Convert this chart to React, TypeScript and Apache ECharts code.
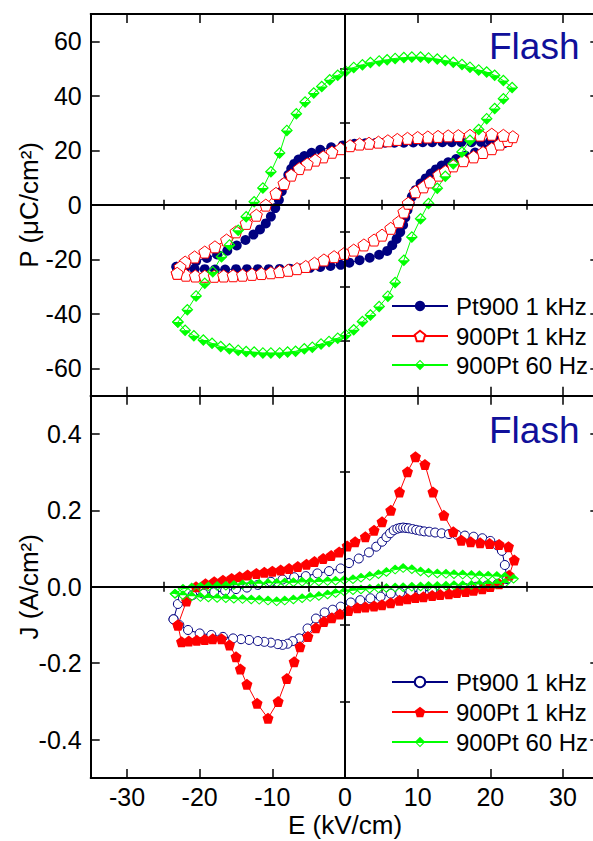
import React, { useEffect, useRef } from 'react';
import * as echarts from 'echarts';

// ---------- axis ticks ----------
const X_MAJOR = [-30, -20, -10, 0, 10, 20, 30];
const X_MINOR = [-25, -15, -5, 5, 15, 25];
const P_MAJOR = [-60, -40, -20, 0, 20, 40, 60];
const P_MINOR = [-50, -30, -10, 10, 30, 50];
const J_MAJOR = [-0.4, -0.2, 0, 0.2, 0.4];
const J_MINOR = [-0.3, -0.1, 0.1, 0.3];

const SERIES_NAMES = ['Pt900 1 kHz', '900Pt 1 kHz', '900Pt 60 Hz'];
const PANEL_LABEL = 'Flash';
const X_TITLE = 'E (kV/cm)';
const P_TITLE = 'P (μC/cm²)';
const J_TITLE = 'J (A/cm²)';

// ---------- top panel: P (uC/cm2) vs E (kV/cm) ----------
const P_PT900_1K: [number, number][] = [
  [-23.2, -22.7], [-22.0, -23.2], [-20.7, -23.5], [-19.3, -23.6], [-17.9, -23.7], [-16.5, -23.7],
  [-15.0, -23.6], [-13.5, -23.6], [-12.0, -23.6], [-10.5, -23.6], [-9.0, -23.5], [-7.6, -23.4],
  [-6.2, -23.3], [-4.8, -23.1], [-3.4, -22.8], [-2.0, -22.4], [-0.6, -22.0], [0.6, -21.2],
  [2.0, -20.3], [3.4, -19.4], [4.7, -18.3], [5.8, -16.9], [6.5, -14.8], [7.1, -12.5],
  [7.6, -10.0], [8.0, -7.4], [8.3, -4.6], [8.6, -1.9], [8.9, 0.6], [9.2, 3.0],
  [9.7, 5.4], [10.4, 7.8], [11.1, 9.7], [11.8, 11.5], [12.5, 13.0], [13.3, 14.4],
  [14.2, 15.6], [15.3, 16.8], [16.6, 18.0], [17.9, 19.2], [19.3, 20.4], [20.7, 21.6],
  [21.9, 22.6], [22.4, 23.4],
  [21.2, 23.6], [20.0, 23.3], [18.7, 23.1], [17.4, 23.0], [16.0, 23.0], [14.7, 23.0],
  [13.4, 23.0], [12.0, 23.0], [10.7, 23.0], [9.4, 22.9], [8.1, 22.8], [6.8, 22.8],
  [5.5, 22.8], [4.2, 22.7], [2.8, 22.6], [1.3, 22.4], [-0.3, 21.8], [-1.9, 21.1],
  [-3.4, 20.2], [-4.6, 19.1], [-5.6, 17.9], [-6.4, 16.6], [-7.0, 15.0], [-7.4, 13.2],
  [-7.8, 11.0], [-8.3, 8.2], [-8.7, 5.0], [-9.1, 1.8], [-9.6, -1.2], [-10.2, -4.3],
  [-10.9, -6.8], [-11.7, -9.0], [-12.6, -10.9], [-13.7, -12.9], [-14.9, -14.9], [-16.2, -16.8],
  [-17.6, -18.2], [-19.0, -19.5], [-20.5, -20.7], [-21.9, -21.6], [-23.2, -22.7],
];

const P_900PT_1K: [number, number][] = [
  [-23.1, -25.1], [-21.9, -25.8], [-20.6, -26.1], [-19.3, -26.2], [-18.0, -26.2], [-16.7, -26.1],
  [-15.4, -26.0], [-14.1, -25.8], [-12.8, -25.5], [-11.5, -25.2], [-10.2, -24.9], [-9.0, -24.5],
  [-7.8, -24.0], [-6.6, -23.4], [-5.4, -22.6], [-4.2, -21.4], [-2.9, -20.2], [-1.5, -19.0],
  [-0.1, -17.8], [1.2, -16.6], [2.6, -14.7], [4.0, -12.9], [5.1, -11.1], [6.3, -8.6],
  [7.4, -6.2], [8.1, -2.6], [8.7, 0.6], [9.7, 4.8], [10.8, 6.6], [11.7, 8.4],
  [12.9, 10.9], [13.8, 12.2], [14.9, 14.3], [16.3, 16.2], [17.7, 17.6], [19.0, 19.2],
  [20.2, 20.6], [21.3, 22.3], [22.4, 23.6], [23.1, 25.0],
  [21.8, 25.5], [20.2, 25.9], [18.6, 25.6], [17.2, 25.5], [15.6, 25.4], [14.2, 25.3],
  [12.8, 25.1], [11.4, 24.9], [10.0, 24.7], [8.6, 24.4], [7.2, 24.0], [5.9, 23.5],
  [4.6, 23.0], [3.3, 22.6], [2.0, 22.3], [0.7, 21.7], [-0.6, 20.6], [-1.8, 19.3],
  [-3.0, 17.6], [-4.1, 16.4], [-5.2, 15.0], [-6.3, 13.3], [-7.4, 10.9], [-8.4, 7.8],
  [-9.5, 4.2], [-10.9, -0.1], [-12.2, -3.8], [-13.6, -6.8], [-15.0, -9.9], [-16.3, -12.9],
  [-17.9, -15.4], [-19.3, -17.3], [-20.7, -19.1], [-22.0, -21.0], [-22.7, -22.8], [-23.1, -25.1],
];

const P_900PT_60: [number, number][] = [
  [-23.0, -43.0], [-22.0, -46.0], [-20.8, -48.0], [-19.5, -49.6], [-18.3, -50.8], [-17.1, -52.0],
  [-15.9, -52.8], [-14.7, -53.3], [-13.6, -53.8], [-12.5, -54.0], [-11.3, -54.3], [-10.2, -54.3],
  [-9.0, -54.3], [-7.9, -54.0], [-6.8, -53.7], [-5.6, -52.8], [-4.5, -52.2], [-3.3, -51.0],
  [-2.2, -50.1], [-1.0, -48.9], [0.1, -47.7], [1.2, -45.8], [2.4, -42.8], [3.5, -40.4],
  [4.7, -37.3], [5.9, -33.5], [6.9, -28.5], [8.1, -20.3], [9.2, -11.8], [10.4, -5.1],
  [11.5, 0.5], [12.7, 6.1], [13.8, 10.5], [14.9, 15.1], [16.1, 19.4], [17.2, 23.7],
  [18.4, 27.6], [19.5, 31.6], [20.6, 35.3], [21.8, 38.9], [23.0, 43.0],
  [21.8, 45.6], [20.6, 47.5], [19.5, 48.7], [18.4, 49.5], [17.2, 50.5], [16.1, 51.5],
  [14.9, 52.3], [13.8, 52.9], [12.7, 53.5], [11.5, 53.9], [10.4, 54.2], [9.2, 54.2],
  [8.1, 54.0], [6.9, 53.7], [5.8, 53.2], [4.7, 52.8], [3.5, 52.2], [2.4, 51.4],
  [1.2, 50.4], [0.1, 49.0], [-1.0, 47.5], [-2.1, 45.9], [-3.2, 43.4], [-4.3, 41.0],
  [-5.5, 37.7], [-6.7, 33.4], [-8.0, 27.3], [-9.0, 19.0], [-10.2, 12.1], [-11.3, 6.2],
  [-12.5, 1.1], [-13.6, -4.4], [-14.7, -9.3], [-15.9, -14.7], [-17.0, -19.0], [-18.2, -24.5],
  [-19.3, -28.8], [-20.5, -33.4], [-21.7, -38.5], [-23.0, -43.0],
];

// ---------- bottom panel: J (A/cm2) vs E (kV/cm) ----------
const J_PT900_1K: [number, number][] = [
  [-23.6, -0.085], [-23.0, -0.045], [-22.3, -0.030], [-21.0, -0.022], [-19.5, -0.018], [-18.0, -0.014],
  [-16.5, -0.010], [-15.0, -0.006], [-13.5, -0.002], [-12.0, 0.005], [-10.2, 0.013], [-8.6, 0.019],
  [-7.0, 0.025], [-5.4, 0.028], [-3.8, 0.035], [-2.2, 0.041], [-0.6, 0.048], [0.55, 0.062],
  [1.9, 0.074], [3.3, 0.090], [4.3, 0.105], [5.1, 0.118], [5.7, 0.130], [6.2, 0.140],
  [6.7, 0.148], [7.2, 0.152], [7.6, 0.154], [8.0, 0.155], [8.4, 0.154], [8.8, 0.153],
  [9.3, 0.151], [9.8, 0.149], [10.3, 0.147], [10.9, 0.145], [11.6, 0.144], [12.4, 0.142],
  [13.3, 0.140], [14.3, 0.138], [15.4, 0.136], [16.5, 0.134], [17.7, 0.131], [18.9, 0.127],
  [20.0, 0.120], [21.0, 0.108], [21.6, 0.094], [22.0, 0.057], [22.3, 0.020],
  [21.0, 0.008], [19.5, 0.003], [18.0, 0.000], [16.5, -0.003], [15.0, -0.005], [13.5, -0.007],
  [12.0, -0.009], [10.5, -0.011], [9.0, -0.013], [7.6, -0.015], [6.3, -0.018], [4.9, -0.026],
  [3.5, -0.030], [2.1, -0.035], [0.8, -0.041], [-0.6, -0.052], [-1.7, -0.060], [-2.8, -0.067],
  [-4.0, -0.083], [-5.15, -0.109], [-6.3, -0.135], [-7.2, -0.142], [-7.9, -0.149], [-8.6, -0.152],
  [-9.25, -0.150], [-10.2, -0.146], [-11.1, -0.144], [-12.0, -0.142], [-13.2, -0.139], [-14.3, -0.137],
  [-15.4, -0.135], [-16.8, -0.131], [-18.4, -0.126], [-20.0, -0.122], [-21.6, -0.113], [-22.8, -0.100],
  [-23.6, -0.085],
];

const J_900PT_1K: [number, number][] = [
  [-23.0, -0.100], [-21.8, -0.037], [-20.5, 0.000], [-19.2, 0.008], [-18.0, 0.013], [-16.8, 0.017],
  [-15.6, 0.022], [-14.5, 0.026], [-13.4, 0.031], [-12.2, 0.035], [-11.1, 0.038], [-10.0, 0.041],
  [-8.85, 0.044], [-7.7, 0.048], [-6.5, 0.053], [-5.3, 0.059], [-4.2, 0.066], [-3.0, 0.074],
  [-1.9, 0.082], [-0.8, 0.091], [0.3, 0.107], [1.4, 0.118], [2.8, 0.131], [4.0, 0.148],
  [5.1, 0.170], [6.3, 0.200], [7.5, 0.248], [8.6, 0.301], [9.7, 0.340], [11.0, 0.320],
  [12.1, 0.248], [13.6, 0.187], [14.9, 0.144], [16.0, 0.122], [17.3, 0.118], [18.6, 0.115],
  [19.9, 0.113], [21.2, 0.111], [22.5, 0.105], [23.3, 0.070], [22.6, 0.030], [21.2, 0.008],
  [20.0, 0.001], [18.9, -0.005], [17.7, -0.009], [16.6, -0.012], [15.4, -0.015], [14.3, -0.018],
  [13.1, -0.020], [12.0, -0.023], [10.8, -0.026], [9.7, -0.028], [8.6, -0.031], [7.5, -0.035],
  [6.3, -0.042], [5.1, -0.047], [4.0, -0.050], [2.8, -0.053], [1.7, -0.055], [0.5, -0.062],
  [-0.7, -0.071], [-1.8, -0.081], [-2.9, -0.091], [-4.0, -0.107], [-5.1, -0.130], [-6.2, -0.157],
  [-7.0, -0.196], [-8.0, -0.240], [-9.2, -0.300], [-10.6, -0.344], [-12.1, -0.305], [-13.5, -0.255],
  [-14.4, -0.215], [-15.0, -0.183], [-15.9, -0.152], [-17.0, -0.136], [-18.2, -0.136], [-19.3, -0.138],
  [-20.4, -0.140], [-21.5, -0.142], [-22.5, -0.144], [-23.0, -0.100],
];

const J_900PT_60: [number, number][] = [
  [-23.4, -0.018], [-22.3, -0.005], [-21.1, -0.002], [-19.9, 0.000], [-18.8, 0.001], [-17.6, 0.002],
  [-16.4, 0.003], [-15.3, 0.005], [-14.1, 0.006], [-12.9, 0.007], [-11.8, 0.008], [-10.6, 0.009],
  [-9.4, 0.010], [-8.3, 0.011], [-7.1, 0.012], [-5.9, 0.013], [-4.8, 0.013], [-3.6, 0.014],
  [-2.4, 0.015], [-1.3, 0.016], [-0.1, 0.018], [1.1, 0.020], [2.2, 0.024], [3.4, 0.028],
  [4.6, 0.033], [5.7, 0.039], [6.9, 0.045], [8.0, 0.049], [9.2, 0.046], [10.4, 0.040],
  [11.5, 0.037], [12.7, 0.035], [13.9, 0.034], [15.0, 0.033], [16.2, 0.032], [17.4, 0.031],
  [18.5, 0.030], [19.7, 0.029], [20.9, 0.028], [22.0, 0.026], [23.2, 0.021],
  [22.0, 0.010], [20.9, 0.008], [19.7, 0.007], [18.5, 0.006], [17.4, 0.005], [16.2, 0.004],
  [15.0, 0.004], [13.9, 0.003], [12.7, 0.002], [11.5, 0.002], [10.4, 0.001], [9.2, 0.000],
  [8.0, -0.001], [6.9, -0.002], [5.7, -0.003], [4.6, -0.004], [3.4, -0.005], [2.2, -0.007],
  [1.1, -0.009], [-0.1, -0.012], [-1.3, -0.016], [-2.4, -0.020], [-3.6, -0.024], [-4.8, -0.027],
  [-5.9, -0.030], [-7.1, -0.033], [-8.3, -0.036], [-9.4, -0.038], [-10.6, -0.036], [-11.8, -0.034],
  [-12.9, -0.033], [-14.1, -0.032], [-15.3, -0.031], [-16.4, -0.030], [-17.6, -0.029], [-18.8, -0.028],
  [-19.9, -0.027], [-21.1, -0.025], [-22.3, -0.022], [-23.4, -0.018],
];

// ---------- styling ----------
const FONT = '"Liberation Sans", Arial, Helvetica, sans-serif';
const NAVY = '#000080';
const RED = '#ff0000';
const GREEN = '#00ff00';
const FLASH_BLUE = '#10109a';
const PENTAGON = 'path://M0,-10L9.511,-3.09L5.878,8.09L-5.878,8.09L-9.511,-3.09Z';
const HALF_DIAMOND_LOW = 'path://M0,-10L10,0L0,10L-10,0ZM0,-7.2L-7.2,0L7.2,0Z';
const HALF_DIAMOND_HIGH = 'path://M0,-10L10,0L0,10L-10,0ZM0,7.2L7.2,0L-7.2,0Z';

const GRID_LEFT = 90.7;
const GRID_WIDTH = 508.6;
const TICK_FONT = 25;
const TOP_LEGEND_ROWS = [307, 337, 366];
const BOTTOM_LEGEND_ROWS = [683, 713, 743];

function xAxesFor(grid: number, bottomPanel: boolean) {
  const base = {
    type: 'value', gridIndex: grid, min: -35, max: 35,
    splitLine: { show: false },
    axisLine: { show: true, onZero: false, lineStyle: { color: '#000', width: 2 } },
  };
  const major = { show: true, inside: true, length: 9, customValues: X_MAJOR, lineStyle: { color: '#000', width: 1.5 } };
  const minor = { show: true, inside: true, length: 5, customValues: X_MINOR, lineStyle: { color: '#000', width: 1.5 } };
  return [
    {
      ...base, position: 'bottom', axisTick: major,
      axisLabel: { show: bottomPanel, customValues: X_MAJOR, margin: 7, fontSize: TICK_FONT, color: '#000', fontFamily: FONT },
      name: bottomPanel ? X_TITLE : '', nameLocation: 'middle', nameGap: 34, nameMoveOverlap: false,
      nameTextStyle: { fontSize: 26, color: '#000', fontFamily: FONT },
    },
    { ...base, position: 'bottom', axisLine: { show: false }, axisTick: minor, axisLabel: { show: false } },
    { ...base, position: 'top', axisTick: major, axisLabel: { show: false } },
    { ...base, position: 'top', axisLine: { show: false }, axisTick: minor, axisLabel: { show: false } },
  ];
}

function yAxesFor(grid: number, min: number, max: number, majors: number[], minors: number[], title: string, fmt: (v: number) => string) {
  const base = {
    type: 'value', gridIndex: grid, min, max,
    splitLine: { show: false },
    axisLine: { show: true, onZero: false, lineStyle: { color: '#000', width: 2 } },
  };
  const major = { show: true, inside: true, length: 9, customValues: majors, lineStyle: { color: '#000', width: 1.5 } };
  const minor = { show: true, inside: true, length: 5, customValues: minors, lineStyle: { color: '#000', width: 1.5 } };
  return [
    {
      ...base, position: 'left', axisTick: major,
      axisLabel: { show: true, customValues: majors, margin: 9, fontSize: TICK_FONT, color: '#000', fontFamily: FONT, formatter: fmt },
      name: title, nameLocation: 'middle', nameGap: 49, nameMoveOverlap: false,
      nameTextStyle: { fontSize: 26, color: '#000', fontFamily: FONT },
    },
    { ...base, position: 'left', axisLine: { show: false }, axisTick: minor, axisLabel: { show: false } },
    { ...base, position: 'right', axisTick: major, axisLabel: { show: false } },
    { ...base, position: 'right', axisLine: { show: false }, axisTick: minor, axisLabel: { show: false } },
  ];
}

function zeroLines(axisIndex: number) {
  return {
    type: 'line', name: 'zero' + axisIndex, xAxisIndex: axisIndex, yAxisIndex: axisIndex,
    data: [], z: 1, silent: true, showSymbol: false,
    markLine: {
      silent: true, symbol: ['none', 'none'], label: { show: false },
      lineStyle: { color: '#000', width: 2, type: 'solid' },
      emphasis: { disabled: true },
      data: [{ yAxis: 0 }, { xAxis: 0 }],
    },
  };
}

function dataSeries(name: string, axisIndex: number, data: [number, number][], color: string, symbol: string, size: number | number[], fill: string, border: number) {
  return {
    type: 'line', name, xAxisIndex: axisIndex, yAxisIndex: axisIndex, data,
    z: 2, symbol, symbolSize: size, showAllSymbol: true,
    lineStyle: { color, width: 1 },
    itemStyle: { color: fill, borderColor: color, borderWidth: border },
    emphasis: { disabled: true },
  };
}

const J_PREFIX = 'J: ';

function legendRow(name: string, center: number) {
  return {
    orient: 'vertical', left: 391, top: center - 13, itemWidth: 56, itemHeight: 13, padding: 0,
    textStyle: { fontSize: 24, color: '#000', fontFamily: FONT, padding: [0, 0, 0, 3] },
    selectedMode: false,
    data: [name],
    formatter: (n: string) => n.replace(J_PREFIX, ''),
  };
}

export default function App() {
  const ref = useRef<HTMLDivElement>(null);
  useEffect(() => {
    if (!ref.current) return;
    const chart = echarts.init(ref.current, undefined, { renderer: 'svg' });
    const pFmt = (v: number) => String(Math.round(v));
    const jFmt = (v: number) => (Math.abs(v) < 1e-9 ? '0.0' : v.toFixed(1));
    chart.setOption({
      animation: false,
      backgroundColor: '#fff',
      grid: [
        { left: GRID_LEFT, width: GRID_WIDTH, top: 14, height: 381.7, containLabel: false, outerBoundsMode: 'none' },
        { left: GRID_LEFT, width: GRID_WIDTH, top: 395.7, height: 382.2, containLabel: false, outerBoundsMode: 'none' },
      ],
      xAxis: [...xAxesFor(0, false), ...xAxesFor(1, true)],
      yAxis: [
        ...yAxesFor(0, -70, 70, P_MAJOR, P_MINOR, P_TITLE, pFmt),
        ...yAxesFor(1, -0.5, 0.5, J_MAJOR, J_MINOR, J_TITLE, jFmt),
      ],
      legend: [
        ...SERIES_NAMES.map((n, i) => legendRow(n, TOP_LEGEND_ROWS[i])),
        ...SERIES_NAMES.map((n, i) => legendRow(J_PREFIX + n, BOTTOM_LEGEND_ROWS[i])),
      ],
      graphic: [
        { type: 'text', left: 489, top: 28, style: { text: PANEL_LABEL, fontSize: 37, fill: FLASH_BLUE, fontFamily: FONT } },
        { type: 'text', left: 489, top: 412, style: { text: PANEL_LABEL, fontSize: 37, fill: FLASH_BLUE, fontFamily: FONT } },
      ],
      series: [
        zeroLines(0),
        dataSeries(SERIES_NAMES[0], 0, P_PT900_1K, NAVY, 'circle', 10, NAVY, 0),
        dataSeries(SERIES_NAMES[1], 0, P_900PT_1K, RED, PENTAGON, 12, '#ffffff', 1),
        dataSeries(SERIES_NAMES[2], 0, P_900PT_60, GREEN, HALF_DIAMOND_LOW, 12, GREEN, 0),
        zeroLines(4),
        dataSeries(J_PREFIX + SERIES_NAMES[0], 4, J_PT900_1K, NAVY, 'circle', 9, '#ffffff', 1),
        dataSeries(J_PREFIX + SERIES_NAMES[1], 4, J_900PT_1K, RED, PENTAGON, 11, RED, 0),
        dataSeries(J_PREFIX + SERIES_NAMES[2], 4, J_900PT_60, GREEN, HALF_DIAMOND_HIGH, [11, 10], GREEN, 0),
      ],
    });
    return () => chart.dispose();
  }, []);
  return <div ref={ref} style={{ position: 'absolute', left: 0, top: 0, width: 593, height: 841 }} />;
}
